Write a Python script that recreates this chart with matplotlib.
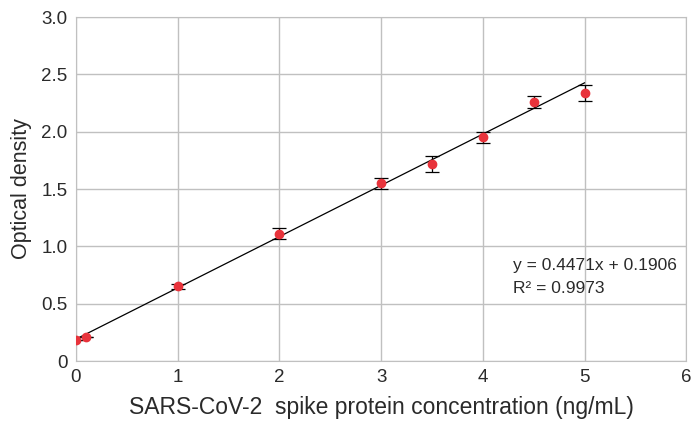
import matplotlib.pyplot as plt
import numpy as np

plt.rcParams["font.family"] = ["Liberation Sans", "DejaVu Sans"]

conc = [0, 0.1, 1, 2, 3, 3.5, 4, 4.5, 5]
od = [0.18, 0.21, 0.65, 1.11, 1.55, 1.72, 1.95, 2.26, 2.34]
err = [0.0, 0.0, 0.02, 0.05, 0.05, 0.07, 0.05, 0.05, 0.07]
slope, intercept = 0.4471, 0.1906

fig = plt.figure(figsize=(6.96, 4.21), dpi=100)
ax = fig.add_axes([0.109, 0.1425, 0.877, 0.817])

fit_x = np.array([0, 5])
ax.plot(fit_x, slope * fit_x + intercept, color="black", lw=0.9, zorder=3)
ax.errorbar(conc, od, yerr=err, fmt="none", ecolor="black", elinewidth=0.9,
            capsize=5, capthick=0.9, zorder=4)
ax.plot(conc, od, "o", color="#e8333b", markersize=6, zorder=5)

ax.set_xlim(0, 6)
ax.set_ylim(0, 3.0)
ax.set_xticks(range(7))
ax.set_yticks([0, 0.5, 1.0, 1.5, 2.0, 2.5, 3.0])
ax.set_yticklabels(["0", "0.5", "1.0", "1.5", "2.0", "2.5", "3.0"])
ax.grid(True, color="#c0c0c0", lw=1)
ax.set_axisbelow(True)
for s in ax.spines.values():
    s.set_color("#c0c0c0")
ax.tick_params(length=0, labelsize=13.5, colors="#2a2a2a", pad=6)

ax.set_xlabel("SARS-CoV-2  spike protein concentration (ng/mL)", fontsize=16.5, color="#2a2a2a", labelpad=7)
ax.set_ylabel("Optical density", fontsize=15.5, color="#2a2a2a", labelpad=7)

ax.text(4.3, 0.79, "y = 0.4471x + 0.1906", fontsize=12.5, color="#2a2a2a")
ax.text(4.3, 0.59, "R² = 0.9973", fontsize=12.5, color="#2a2a2a")

fig.savefig("out.png", dpi=100)
